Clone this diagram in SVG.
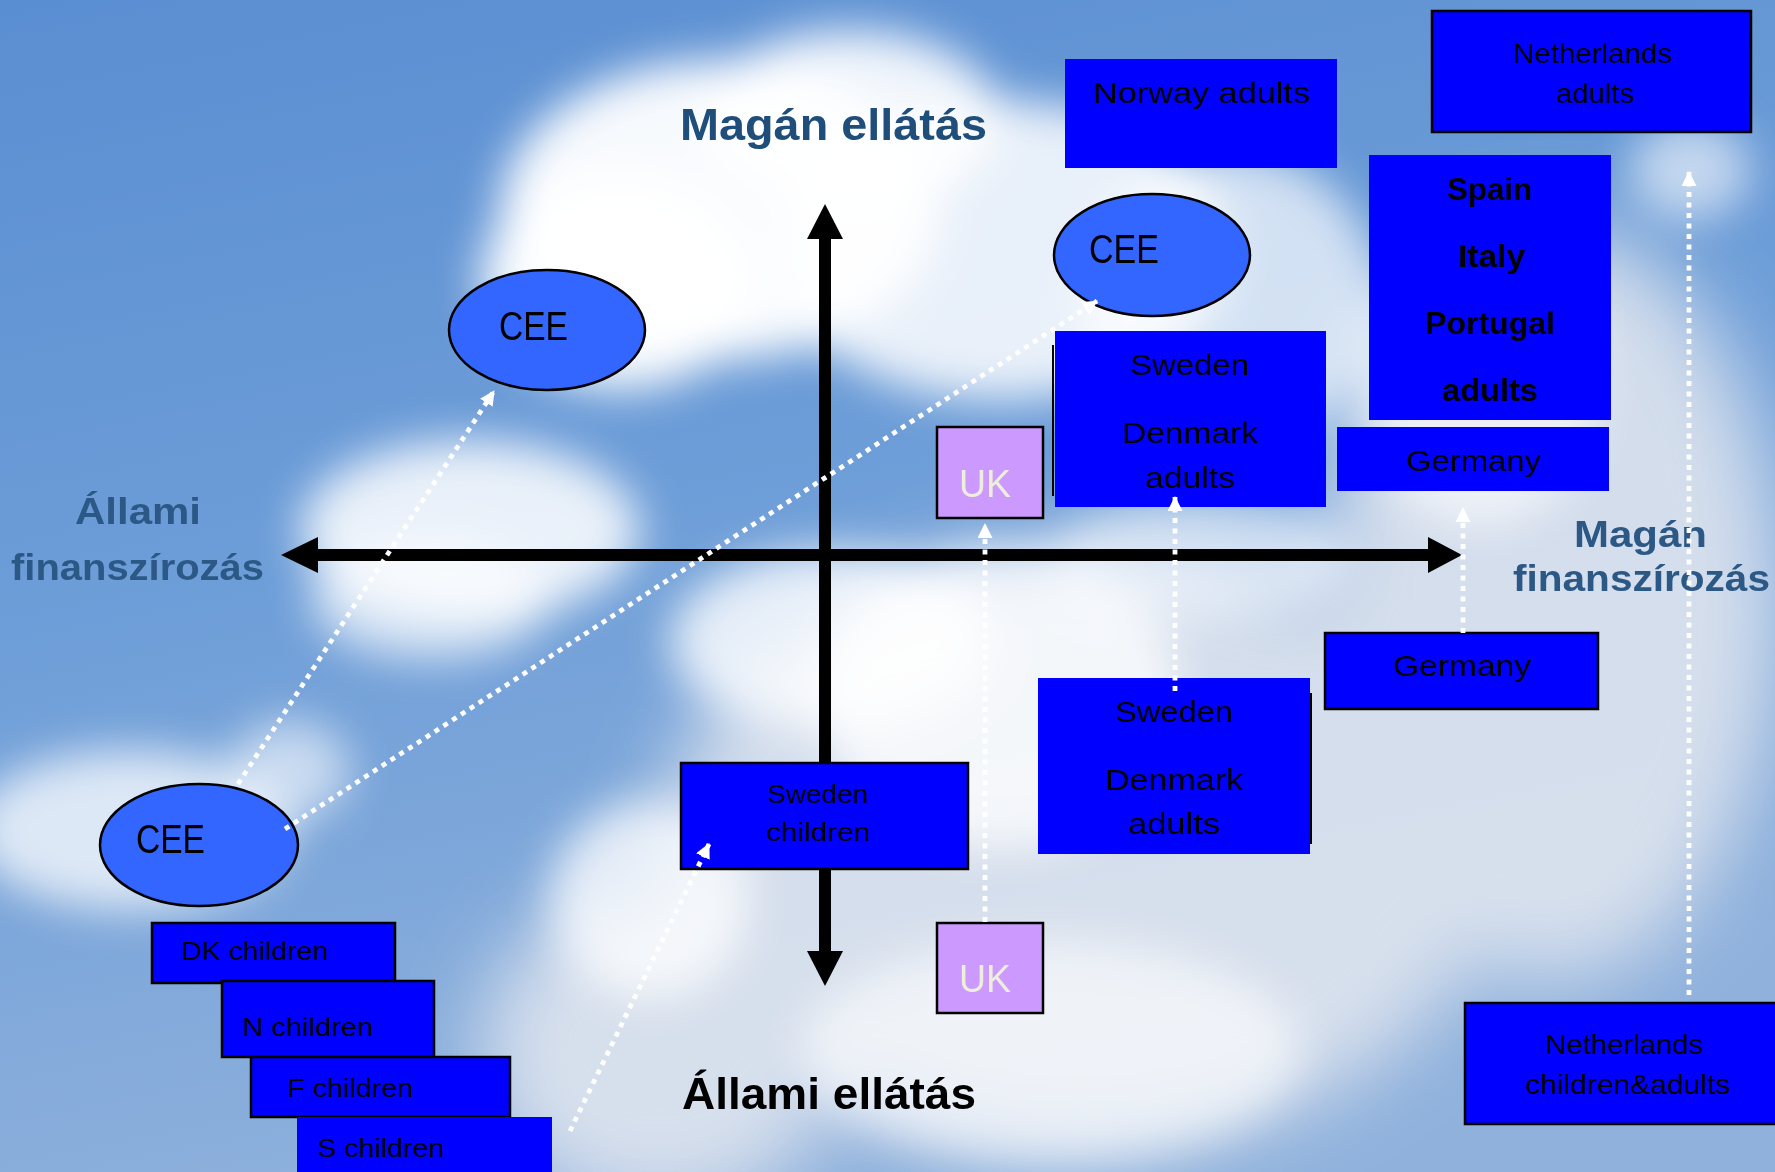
<svg xmlns="http://www.w3.org/2000/svg" width="1775" height="1172" viewBox="0 0 1775 1172">
<defs>
<linearGradient id="sky" x1="0" y1="0" x2="0.3" y2="1">
<stop offset="0" stop-color="#5a8ed2"/>
<stop offset="0.5" stop-color="#6e9ed8"/>
<stop offset="1" stop-color="#8fb1dc"/>
</linearGradient>
<filter id="blur" x="-50%" y="-50%" width="200%" height="200%"><feGaussianBlur stdDeviation="22"/></filter>
<filter id="blur2" x="-50%" y="-50%" width="200%" height="200%"><feGaussianBlur stdDeviation="40"/></filter>
<marker id="wa" viewBox="0 0 15 15" refX="14" refY="7.5" markerWidth="15" markerHeight="15" markerUnits="userSpaceOnUse" orient="auto">
<path d="M0,0 L15,7.5 L0,15 Z" fill="#ffffff"/>
</marker>
</defs>
<style>
.box{fill:#0000ff;}
.bb{fill:#0000ff;stroke:#000;stroke-width:2.5;}
.ell{fill:#3366ff;stroke:#000;stroke-width:2.5;}
.uk{fill:#cc99ff;stroke:#000;stroke-width:2.5;}
.t{font-family:"Liberation Sans",Arial,sans-serif;fill:#000;}
.tb{font-family:"Liberation Sans",Arial,sans-serif;fill:#000;font-weight:bold;}
.ax{font-family:"Liberation Sans",Arial,sans-serif;font-weight:bold;fill:#1f4e7a;}
.ax2{font-family:"Liberation Sans",Arial,sans-serif;font-weight:bold;fill:#2c5886;}
.ukt{font-family:"Liberation Sans",Arial,sans-serif;fill:#eeeedd;}
.dot{stroke:#ffffff;stroke-width:4.8;stroke-dasharray:5 5.5;fill:none;marker-end:url(#wa);}
.axis{stroke:#000;stroke-width:12;fill:none;}
.head{fill:#000;}
</style>
<g id="background">
<rect x="0" y="0" width="1775" height="1172" fill="url(#sky)"/>
<g filter="url(#blur2)" fill="#e4e8f0" opacity="0.85">
<ellipse cx="1080" cy="850" rx="420" ry="300"/>
<ellipse cx="1550" cy="600" rx="230" ry="380"/>
<ellipse cx="660" cy="1050" rx="180" ry="160"/>
</g>
<g filter="url(#blur)" fill="#ffffff">
<ellipse cx="720" cy="210" rx="220" ry="150" opacity="0.95"/>
<ellipse cx="620" cy="280" rx="140" ry="110" opacity="0.95"/>
<ellipse cx="850" cy="120" rx="150" ry="90" opacity="0.9"/>
<ellipse cx="1000" cy="250" rx="230" ry="150" opacity="0.85"/>
<ellipse cx="1230" cy="300" rx="150" ry="150" opacity="0.7"/>
<ellipse cx="470" cy="530" rx="170" ry="90" opacity="0.85"/>
<ellipse cx="430" cy="600" rx="120" ry="60" opacity="0.7"/>
<ellipse cx="130" cy="830" rx="160" ry="80" opacity="0.75"/>
<ellipse cx="290" cy="770" rx="60" ry="50" opacity="0.6"/>
<ellipse cx="830" cy="640" rx="160" ry="90" opacity="0.8"/>
<ellipse cx="1000" cy="700" rx="180" ry="150" opacity="0.75"/>
<ellipse cx="1200" cy="560" rx="150" ry="60" opacity="0.6"/>
<ellipse cx="650" cy="900" rx="100" ry="100" opacity="0.75"/>
<ellipse cx="1050" cy="1050" rx="250" ry="110" opacity="0.6"/>
<ellipse cx="1690" cy="170" rx="60" ry="50" opacity="0.6"/>
<ellipse cx="1480" cy="380" rx="120" ry="150" opacity="0.6"/>
</g>
</g>
<g id="axes">
<line class="axis" x1="825" y1="238" x2="825" y2="952"/>
<line class="axis" x1="317" y1="555" x2="1429" y2="555"/>
<polygon class="head" points="825,204 843,239 807,239"/>
<polygon class="head" points="825,986 843,951 807,951"/>
<polygon class="head" points="281,555 318,537 318,573"/>
<polygon class="head" points="1462,555 1428,537 1428,573"/>
<text class="ax" x="680" y="140" font-size="44" textLength="307" lengthAdjust="spacingAndGlyphs">Magán ellátás</text>
<text class="tb" x="682" y="1109" font-size="44" textLength="294" lengthAdjust="spacingAndGlyphs">Állami ellátás</text>
<text class="ax2" x="75" y="524" font-size="37" textLength="126" lengthAdjust="spacingAndGlyphs">Állami</text>
<text class="ax2" x="11" y="580" font-size="37" textLength="253" lengthAdjust="spacingAndGlyphs">finanszírozás</text>
<text class="ax2" x="1574" y="547" font-size="37" textLength="133" lengthAdjust="spacingAndGlyphs">Magán</text>
<text class="ax2" x="1513" y="591" font-size="37" textLength="257" lengthAdjust="spacingAndGlyphs">finanszírozás</text>
</g>
<g id="cee-left">
<ellipse class="ell" cx="547" cy="330" rx="98" ry="60"/>
<text class="t" x="499" y="340" font-size="40" textLength="69" lengthAdjust="spacingAndGlyphs">CEE</text>
</g>
<g id="cee-right">
<ellipse class="ell" cx="1152" cy="255" rx="98" ry="61"/>
<text class="t" x="1089" y="263" font-size="40" textLength="70" lengthAdjust="spacingAndGlyphs">CEE</text>
</g>
<g id="cee-bottom">
<ellipse class="ell" cx="199" cy="845" rx="99" ry="61"/>
<text class="t" x="136" y="853" font-size="40" textLength="69" lengthAdjust="spacingAndGlyphs">CEE</text>
</g>
<g id="norway-adults">
<rect class="box" x="1065" y="59" width="272" height="109"/>
<text class="t" x="1093" y="103" font-size="30" textLength="217" lengthAdjust="spacingAndGlyphs">Norway adults</text>
</g>
<g id="netherlands-adults">
<rect class="bb" x="1432" y="11" width="319" height="121"/>
<text class="t" x="1513" y="63" font-size="28" textLength="159" lengthAdjust="spacingAndGlyphs">Netherlands</text>
<text class="t" x="1556" y="103" font-size="28" textLength="78" lengthAdjust="spacingAndGlyphs">adults</text>
</g>
<g id="spain-italy-portugal">
<rect class="box" x="1369" y="155" width="242" height="265"/>
<text class="tb" x="1447" y="200" font-size="31" textLength="85" lengthAdjust="spacingAndGlyphs">Spain</text>
<text class="tb" x="1458" y="267" font-size="31" textLength="67" lengthAdjust="spacingAndGlyphs">Italy</text>
<text class="tb" x="1425" y="334" font-size="31" textLength="130" lengthAdjust="spacingAndGlyphs">Portugal</text>
<text class="tb" x="1442" y="401" font-size="31" textLength="96" lengthAdjust="spacingAndGlyphs">adults</text>
</g>
<g id="germany-top">
<rect class="box" x="1337" y="427" width="272" height="64"/>
<text class="t" x="1406" y="471" font-size="30" textLength="135" lengthAdjust="spacingAndGlyphs">Germany</text>
</g>
<g id="sweden-denmark-top">
<line x1="1053" y1="345" x2="1053" y2="496" stroke="#000" stroke-width="2"/>
<rect class="box" x="1055" y="331" width="271" height="176"/>
<text class="t" x="1130" y="375" font-size="30" textLength="119" lengthAdjust="spacingAndGlyphs">Sweden</text>
<text class="t" x="1122" y="443" font-size="30" textLength="136" lengthAdjust="spacingAndGlyphs">Denmark</text>
<text class="t" x="1145" y="488" font-size="30" textLength="90" lengthAdjust="spacingAndGlyphs">adults</text>
</g>
<g id="uk-top">
<rect class="uk" x="937" y="427" width="106" height="91"/>
<text class="ukt" x="959" y="497" font-size="38" textLength="52" lengthAdjust="spacingAndGlyphs">UK</text>
</g>
<g id="germany-bottom">
<rect class="bb" x="1325" y="633" width="273" height="76"/>
<text class="t" x="1393" y="676" font-size="30" textLength="138" lengthAdjust="spacingAndGlyphs">Germany</text>
</g>
<g id="sweden-denmark-bottom">
<line x1="1311" y1="693" x2="1311" y2="844" stroke="#000" stroke-width="2"/>
<rect class="box" x="1038" y="678" width="272" height="176"/>
<text class="t" x="1115" y="722" font-size="30" textLength="118" lengthAdjust="spacingAndGlyphs">Sweden</text>
<text class="t" x="1105" y="790" font-size="30" textLength="138" lengthAdjust="spacingAndGlyphs">Denmark</text>
<text class="t" x="1128" y="834" font-size="30" textLength="92" lengthAdjust="spacingAndGlyphs">adults</text>
</g>
<g id="sweden-children">
<rect class="bb" x="681" y="763" width="287" height="106"/>
<text class="t" x="767" y="803" font-size="26" textLength="101" lengthAdjust="spacingAndGlyphs">Sweden</text>
<text class="t" x="766" y="841" font-size="26" textLength="104" lengthAdjust="spacingAndGlyphs">children</text>
</g>
<g id="uk-bottom">
<rect class="uk" x="937" y="923" width="106" height="90"/>
<text class="ukt" x="959" y="992" font-size="38" textLength="52" lengthAdjust="spacingAndGlyphs">UK</text>
</g>
<g id="netherlands-children-adults">
<rect class="bb" x="1465" y="1003" width="315" height="121"/>
<text class="t" x="1545" y="1054" font-size="28" textLength="158" lengthAdjust="spacingAndGlyphs">Netherlands</text>
<text class="t" x="1525" y="1094" font-size="28" textLength="205" lengthAdjust="spacingAndGlyphs">children&amp;adults</text>
</g>
<g id="dk-children">
<rect class="bb" x="152" y="923" width="243" height="60"/>
<text class="t" x="181" y="960" font-size="26" textLength="147" lengthAdjust="spacingAndGlyphs">DK children</text>
</g>
<g id="n-children">
<rect class="bb" x="222" y="981" width="212" height="76"/>
<text class="t" x="242" y="1036" font-size="26" textLength="131" lengthAdjust="spacingAndGlyphs">N children</text>
</g>
<g id="f-children">
<rect class="bb" x="251" y="1057" width="259" height="60"/>
<text class="t" x="287" y="1097" font-size="26" textLength="126" lengthAdjust="spacingAndGlyphs">F children</text>
</g>
<g id="s-children">
<rect class="box" x="297" y="1117" width="255" height="60"/>
<text class="t" x="317" y="1157" font-size="26" textLength="127" lengthAdjust="spacingAndGlyphs">S children</text>
</g>
<g id="connectors">
<line class="dot" x1="238" y1="784" x2="494" y2="391"/>
<line class="dot" x1="285" y1="829" x2="1097" y2="301"/>
<line class="dot" x1="570" y1="1131" x2="709" y2="844"/>
<line class="dot" x1="985" y1="922" x2="985" y2="524"/>
<line class="dot" x1="1175" y1="691" x2="1175" y2="497"/>
<line class="dot" x1="1463" y1="633" x2="1463" y2="508"/>
<line class="dot" x1="1689" y1="995" x2="1689" y2="172"/>
</g>
</svg>
